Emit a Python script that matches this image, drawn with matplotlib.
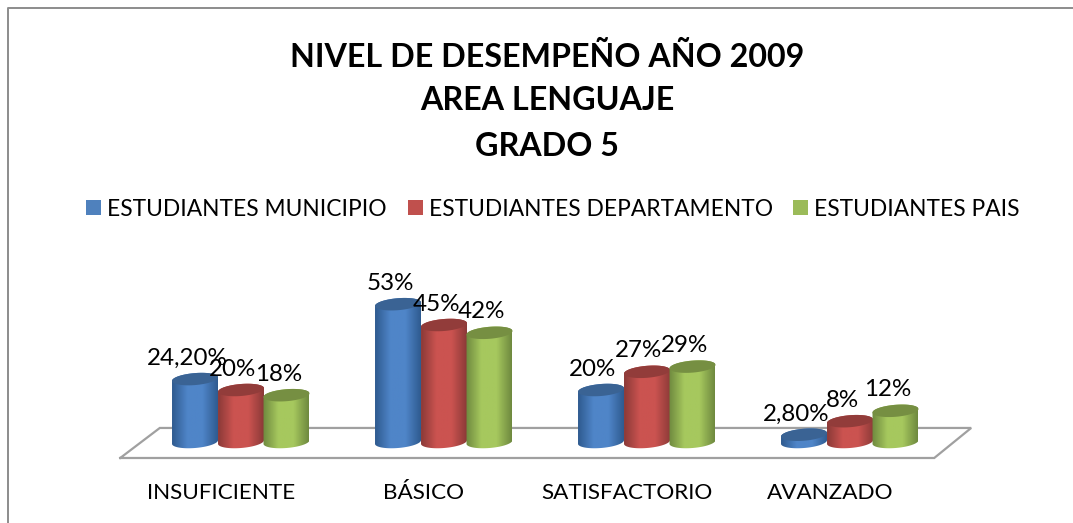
import numpy as np
import matplotlib
matplotlib.use('Agg')
import matplotlib.pyplot as plt
from matplotlib.colors import LinearSegmentedColormap
from matplotlib.patches import PathPatch
from matplotlib.path import Path

plt.rcParams['font.family'] = ['Lato', 'DejaVu Sans']

# Data
categories = ['INSUFICIENTE', 'BÁSICO', 'SATISFACTORIO', 'AVANZADO']
series_names = ['ESTUDIANTES MUNICIPIO', 'ESTUDIANTES DEPARTAMENTO', 'ESTUDIANTES PAIS']
municipio = [24.2, 53, 20, 2.8]
departamento = [20, 45, 27, 8]
pais = [18, 42, 29, 12]
municipio_labels = ['24,20%', '53%', '20%', '2,80%']
departamento_labels = ['20%', '45%', '27%', '8%']
pais_labels = ['18%', '42%', '29%', '12%']
title_lines = ['NIVEL DE DESEMPEÑO AÑO 2009', 'AREA LENGUAJE', 'GRADO 5']

# Colours: legend, gradient (edge, centre), top of the cylinder
colors = [
    ('#4F81BD', ['#2F5B90', '#4F85C8', '#4F85C8', '#2F5B90'], '#3A6394'),
    ('#C0504D', ['#8C3A38', '#CB5350', '#CB5350', '#8C3A38'], '#923C3A'),
    ('#9BBB59', ['#6F8A3F', '#A6C85E', '#A6C85E', '#6F8A3F'], '#768F42'),
]

W, H = 1073, 523
fig = plt.figure(figsize=(W / 100, H / 100), dpi=100)
ax = fig.add_axes([0, 0, 1, 1])

# 1 category = 203 px, 1 percent = 2.6 px
px_x = 203.0
px_y = 2.6
x0 = 241.0
y0 = 442.0
xlim = ((0 - x0) / px_x, (W - x0) / px_x)
ylim = ((y0 - H) / px_y, y0 / px_y)
bar_w = 46 / px_x
minor = 6 / px_y
tilt = 1.8 / px_y


def cylinder(cx, value, grad, top_color):
    t = np.linspace(0, 2 * np.pi, 80)
    a = bar_w / 2
    ex = a * np.cos(t)
    ey = minor * np.sin(t) + tilt * np.cos(t)
    # body outline: lower half of bottom ellipse + upper half of top ellipse
    lower = t >= np.pi
    upper = t <= np.pi
    xs = np.concatenate([cx + ex[lower], cx + ex[upper]])
    ys = np.concatenate([ey[lower], value + ey[upper]])
    body = PathPatch(Path(np.column_stack([xs, ys])), fc='none', ec='none')
    ax.add_patch(body)
    cmap = LinearSegmentedColormap.from_list('cyl', grad)
    im = ax.imshow(np.linspace(0, 1, 64).reshape(1, -1), cmap=cmap, aspect='auto',
                   extent=(cx - a, cx + a, -minor - tilt, value + minor + tilt),
                   zorder=3)
    im.set_clip_path(body)
    ax.fill(cx + ex, value + ey, color=top_color, lw=0, zorder=3)


# Floor
floor_x = [-0.595, 3.415, 3.597, -0.4, -0.595]
floor_y = [-6.15, -6.15, 5.4, 5.4, -6.15]
ax.plot(floor_x, floor_y, color='#A0A0A0', lw=1.6, zorder=1, solid_joinstyle='miter')

values = [municipio, departamento, pais]
labels = [municipio_labels, departamento_labels, pais_labels]
offsets = [-46 / px_x, 0, 45.5 / px_x]
for i, cat in enumerate(categories):
    for s in range(3):
        cx = i + offsets[s]
        cylinder(cx, values[s][i], colors[s][1], colors[s][2])
        ax.annotate(labels[s][i], (cx, values[s][i]), xytext=(-5.8, 15),
                    textcoords='offset points', ha='center', va='center',
                    fontsize=17.4, color='black', zorder=5)
    ax.annotate(cat, (i, 0), xytext=(-14.5, -36.7), textcoords='offset points',
                ha='center', va='center', fontsize=16.2, color='black')

# Title
title_y = [57, 100, 147]
for line, py in zip(title_lines, title_y):
    ax.text(547 / W, 1 - py / H, line, transform=ax.transAxes, ha='center', va='center',
            fontsize=23.2, fontweight='bold', color='black')

# Legend
legend_sq = [86, 408, 793]
legend_tx = [107, 429, 814]
for s, name in enumerate(series_names):
    ax.add_patch(plt.Rectangle((legend_sq[s] / W, 1 - 215 / H), 15 / W, 15 / H,
                               transform=ax.transAxes, fc=colors[s][0], ec='none'))
    ax.text(legend_tx[s] / W, 1 - 210 / H, name, transform=ax.transAxes, ha='left',
            va='center', fontsize=16.4, color='black')

# Chart border: only the top and left sides show in the picture
ax.plot([8 / W, 8 / W, 1], [0, 1 - 8 / H, 1 - 8 / H],
        transform=ax.transAxes, color='#8C8C8C', lw=1.4)

ax.set_xlim(xlim)
ax.set_ylim(ylim)
ax.axis('off')

fig.savefig('out.png', dpi=100, facecolor='white')
